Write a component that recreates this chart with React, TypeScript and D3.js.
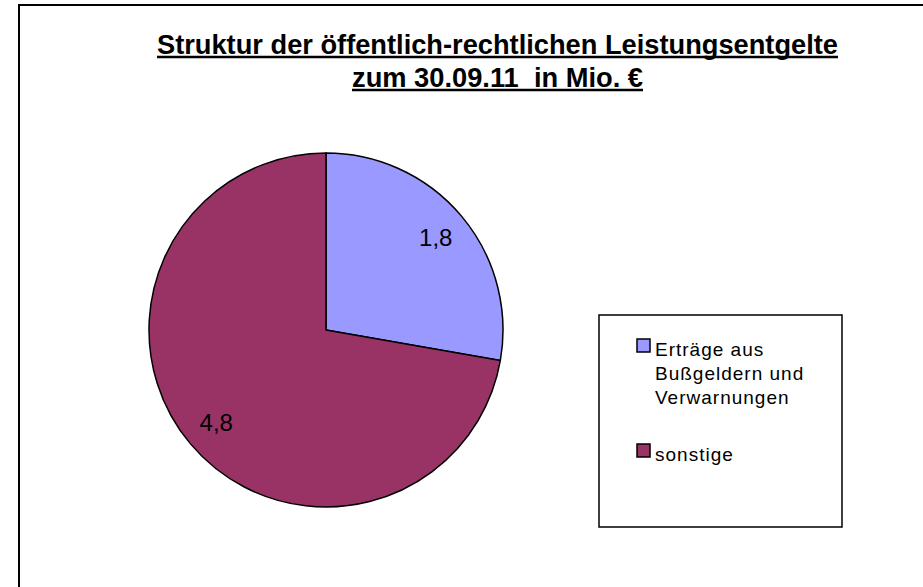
import React from "react";
import * as d3 from "d3";

const categories = ["Erträge aus Bußgeldern und Verwarnungen", "sonstige"];
const values = [1.84, 4.79];
const valueLabels = ["1,8", "4,8"];
const legendLines = [["Erträge aus", "Bußgeldern und", "Verwarnungen"], ["sonstige"]];
const colors = ["#9999FF", "#993366"];
const titleLines = ["Struktur der öffentlich-rechtlichen Leistungsentgelte", "zum 30.09.11\u00A0 in Mio. €"];

export default function App() {
  const W = 923, H = 587;
  const cx = 326, cy = 330, r = 177;
  const pie = d3.pie<number>().sort(null).value((d) => d);
  const arcs = pie(values);
  const arc = d3.arc<d3.PieArcDatum<number>>().innerRadius(0).outerRadius(r);
  const labelArc = d3.arc<d3.PieArcDatum<number>>().innerRadius(r * 0.81).outerRadius(r * 0.81);

  const titleSpecs = [
    { x: 157, w: 681, y: 54 },
    { x: 352, w: 291, y: 87 },
  ];
  const legendItemTops = [356, 461];

  return (
    <svg width={W} height={H} style={{ position: "absolute", left: 0, top: 0 }} fontFamily="'Liberation Sans', Arial, sans-serif">
      <rect x={0} y={0} width={W} height={H} fill="#fff" />
      <rect x={19} y={5} width={W + 20} height={H + 20} fill="none" stroke="#000" strokeWidth={2} />
      {titleLines.map((t, i) => (
        <g key={i}>
          <text x={titleSpecs[i].x} y={titleSpecs[i].y} fontSize={27} fontWeight="bold" textLength={titleSpecs[i].w} lengthAdjust="spacingAndGlyphs" fill="#000">
            {t}
          </text>
          <line x1={titleSpecs[i].x} x2={titleSpecs[i].x + titleSpecs[i].w} y1={titleSpecs[i].y + 3} y2={titleSpecs[i].y + 3} stroke="#000" strokeWidth={2.5} />
        </g>
      ))}
      <g transform={`translate(${cx},${cy})`}>
        {arcs.map((a, i) => (
          <path key={i} d={arc(a) || ""} fill={colors[i]} stroke="#000" strokeWidth={1.5} strokeLinejoin="round" />
        ))}
        {arcs.map((a, i) => {
          const [lx, ly] = labelArc.centroid(a);
          return (
            <text key={i} x={lx} y={ly + 8.5} textAnchor="middle" fontSize={24} fill="#000">
              {valueLabels[i]}
            </text>
          );
        })}
      </g>
      <rect x={599} y={315} width={243} height={212} fill="#fff" stroke="#000" strokeWidth={1.5} />
      {legendLines.map((lines, i) => (
        <g key={i}>
          <rect x={637} y={legendItemTops[i] - 17} width={13} height={13} fill={colors[i]} stroke="#000" strokeWidth={1.5} />
          {lines.map((l, j) => (
            <text key={j} x={655} y={legendItemTops[i] + j * 24} fontSize={19} letterSpacing={1} fill="#000">
              {l}
            </text>
          ))}
        </g>
      ))}
    </svg>
  );
}
